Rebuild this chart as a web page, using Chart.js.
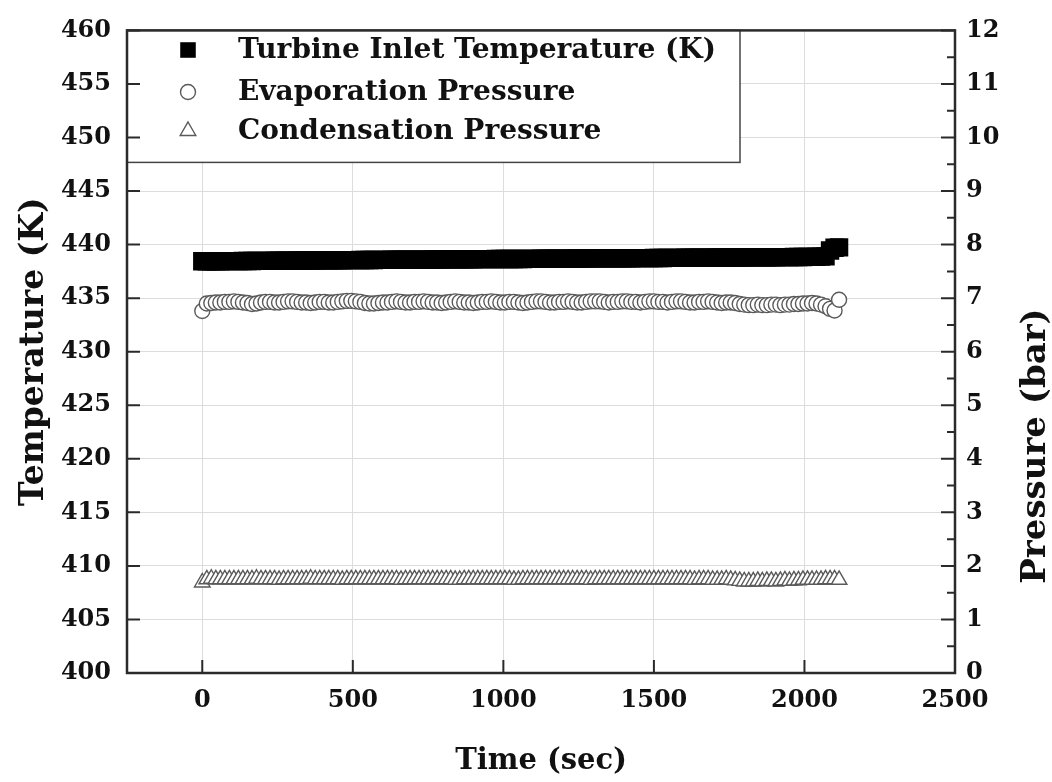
<!DOCTYPE html>
<html>
<head>
<meta charset="utf-8">
<script src="https://cdn.jsdelivr.net/npm/chart.js@4.4.1/dist/chart.umd.min.js"></script>
<style>
  body { margin: 0; background: #fff; }
  canvas { display: block; }
</style>
</head>
<body>
<canvas id="chart" width="1052" height="782"></canvas>
<script>
// time stamps (sec)
var timeSec = [
  0, 15, 30, 45, 60, 75, 90, 105, 120, 135,
  150, 165, 180, 195, 210, 225, 240, 255, 270, 285,
  300, 315, 330, 345, 360, 375, 390, 405, 420, 435,
  450, 465, 480, 495, 510, 525, 540, 555, 570, 585,
  600, 615, 630, 645, 660, 675, 690, 705, 720, 735,
  750, 765, 780, 795, 810, 825, 840, 855, 870, 885,
  900, 915, 930, 945, 960, 975, 990, 1005, 1020, 1035,
  1050, 1065, 1080, 1095, 1110, 1125, 1140, 1155, 1170, 1185,
  1200, 1215, 1230, 1245, 1260, 1275, 1290, 1305, 1320, 1335,
  1350, 1365, 1380, 1395, 1410, 1425, 1440, 1455, 1470, 1485,
  1500, 1515, 1530, 1545, 1560, 1575, 1590, 1605, 1620, 1635,
  1650, 1665, 1680, 1695, 1710, 1725, 1740, 1755, 1770, 1785,
  1800, 1815, 1830, 1845, 1860, 1875, 1890, 1905, 1920, 1935,
  1950, 1965, 1980, 1995, 2010, 2025, 2040, 2055, 2070, 2085,
  2100, 2115
];

// turbine inlet temperature (K)
var turbineInletTemp = [
  438.44, 438.44, 438.45, 438.45, 438.45, 438.46, 438.46, 438.46, 438.46, 438.47,
  438.47, 438.47, 438.48, 438.48, 438.48, 438.48, 438.49, 438.49, 438.49, 438.50,
  438.50, 438.51, 438.51, 438.52, 438.52, 438.52, 438.53, 438.53, 438.53, 438.54,
  438.54, 438.54, 438.55, 438.55, 438.55, 438.56, 438.56, 438.56, 438.56, 438.57,
  438.57, 438.57, 438.58, 438.58, 438.58, 438.59, 438.59, 438.59, 438.60, 438.60,
  438.60, 438.61, 438.61, 438.61, 438.62, 438.62, 438.62, 438.62, 438.63, 438.63,
  438.63, 438.64, 438.64, 438.64, 438.64, 438.65, 438.65, 438.65, 438.66, 438.66,
  438.66, 438.66, 438.67, 438.67, 438.67, 438.68, 438.68, 438.68, 438.68, 438.69,
  438.69, 438.69, 438.70, 438.70, 438.70, 438.70, 438.71, 438.71, 438.71, 438.72,
  438.72, 438.72, 438.72, 438.73, 438.73, 438.73, 438.74, 438.74, 438.74, 438.74,
  438.75, 438.75, 438.75, 438.76, 438.76, 438.76, 438.76, 438.77, 438.77, 438.77,
  438.78, 438.78, 438.78, 438.78, 438.79, 438.79, 438.79, 438.80, 438.80, 438.80,
  438.80, 438.81, 438.81, 438.81, 438.82, 438.82, 438.82, 438.82, 438.83, 438.83,
  438.83, 438.84, 438.84, 438.84, 438.85, 438.85, 438.86, 438.88, 438.90, 439.45,
  439.70, 439.74
];

// evaporation pressure (bar)
var evapPressure = [
  6.76, 6.90, 6.91, 6.92, 6.92, 6.93, 6.93, 6.94, 6.93, 6.92,
  6.91, 6.89, 6.90, 6.92, 6.93, 6.93, 6.92, 6.92, 6.93, 6.94,
  6.94, 6.93, 6.92, 6.92, 6.91, 6.92, 6.93, 6.93, 6.92, 6.92,
  6.93, 6.94, 6.95, 6.95, 6.94, 6.93, 6.91, 6.90, 6.90, 6.91,
  6.92, 6.92, 6.93, 6.94, 6.93, 6.92, 6.92, 6.93, 6.93, 6.94,
  6.93, 6.92, 6.92, 6.91, 6.92, 6.93, 6.94, 6.93, 6.92, 6.92,
  6.91, 6.92, 6.93, 6.93, 6.94, 6.93, 6.92, 6.92, 6.93, 6.93,
  6.92, 6.91, 6.92, 6.93, 6.94, 6.94, 6.93, 6.92, 6.92, 6.93,
  6.93, 6.94, 6.93, 6.92, 6.92, 6.93, 6.94, 6.94, 6.94, 6.93,
  6.92, 6.93, 6.93, 6.94, 6.94, 6.93, 6.93, 6.92, 6.93, 6.94,
  6.94, 6.93, 6.93, 6.92, 6.93, 6.94, 6.94, 6.93, 6.92, 6.92,
  6.93, 6.93, 6.94, 6.93, 6.92, 6.91, 6.92, 6.92, 6.91, 6.89,
  6.88, 6.87, 6.87, 6.88, 6.87, 6.87, 6.88, 6.88, 6.87, 6.88,
  6.88, 6.89, 6.89, 6.90, 6.90, 6.91, 6.90, 6.88, 6.85, 6.80,
  6.77, 6.97
];

// condensation pressure (bar)
var condPressure = [
  1.69, 1.75, 1.76, 1.75, 1.75, 1.75, 1.75, 1.75, 1.75, 1.75,
  1.75, 1.75, 1.76, 1.75, 1.75, 1.75, 1.75, 1.74, 1.75, 1.75,
  1.75, 1.75, 1.75, 1.75, 1.76, 1.75, 1.75, 1.75, 1.75, 1.75,
  1.75, 1.74, 1.75, 1.75, 1.75, 1.75, 1.75, 1.75, 1.75, 1.75,
  1.75, 1.75, 1.75, 1.75, 1.74, 1.75, 1.75, 1.75, 1.75, 1.75,
  1.75, 1.75, 1.75, 1.75, 1.75, 1.75, 1.74, 1.74, 1.75, 1.75,
  1.75, 1.75, 1.75, 1.75, 1.75, 1.75, 1.75, 1.75, 1.75, 1.74,
  1.74, 1.75, 1.75, 1.75, 1.75, 1.75, 1.75, 1.75, 1.75, 1.75,
  1.75, 1.75, 1.75, 1.75, 1.75, 1.75, 1.74, 1.75, 1.75, 1.75,
  1.75, 1.75, 1.75, 1.75, 1.75, 1.75, 1.75, 1.75, 1.75, 1.75,
  1.75, 1.75, 1.75, 1.75, 1.75, 1.75, 1.75, 1.75, 1.75, 1.74,
  1.75, 1.75, 1.75, 1.74, 1.74, 1.74, 1.75, 1.74, 1.73, 1.72,
  1.71, 1.71, 1.71, 1.72, 1.71, 1.72, 1.72, 1.71, 1.72, 1.73,
  1.72, 1.73, 1.73, 1.74, 1.74, 1.74, 1.74, 1.74, 1.75, 1.75,
  1.75, 1.74
];

var seriesLabels = ['Turbine Inlet Temperature (K)', 'Evaporation Pressure', 'Condensation Pressure'];
var xTicks = [0, 500, 1000, 1500, 2000, 2500];
var tempTicks = [400, 405, 410, 415, 420, 425, 430, 435, 440, 445, 450, 455, 460];
var presTicks = [0, 1, 2, 3, 4, 5, 6, 7, 8, 9, 10, 11, 12];
var presMinorTicks = [0.5, 1.5, 2.5, 3.5, 4.5, 5.5, 6.5, 7.5, 8.5, 9.5, 10.5, 11.5];

var FONT = '"DejaVu Serif", "Liberation Serif", serif';
var INK = '#111';

function pts(ys) {
  return timeSec.map(function(t, i) { return { x: t, y: ys[i] }; });
}

function plain(v) { return String(v); }

// white legend box in upper left of the plot
var legendBox = {
  id: 'legendBox',
  afterDatasetsDraw: function(chart) {
    var ctx = chart.ctx, a = chart.chartArea;
    ctx.save();
    ctx.fillStyle = '#fff';
    ctx.fillRect(a.left, a.top, 613, 132);
    ctx.strokeStyle = '#444';
    ctx.lineWidth = 1.5;
    ctx.strokeRect(a.left, a.top, 613, 132);
    var rows = [50, 92, 131];
    chart.data.datasets.forEach(function(ds, i) {
      ctx.fillStyle = ds.pointBackgroundColor;
      ctx.strokeStyle = ds.pointBorderColor;
      ctx.lineWidth = ds.pointBorderWidth;
      var r = i === 0 ? 11 : ds.pointRadius;
      Chart.helpers.drawPoint(ctx, { pointStyle: ds.pointStyle, radius: r, rotation: 0, borderWidth: ds.pointBorderWidth }, 188, rows[i]);
      ctx.fillStyle = INK;
      ctx.font = 'bold 28px ' + FONT;
      ctx.textAlign = 'left';
      ctx.textBaseline = 'middle';
      ctx.fillText(ds.label, 238, rows[i] + 1);
    });
    ctx.restore();
  }
};

// frame, inward tick marks and the right axis title
var frameTicks = {
  id: 'frameTicks',
  afterDraw: function(chart) {
    var ctx = chart.ctx, a = chart.chartArea;
    var sx = chart.scales.x, sy = chart.scales.y, sy1 = chart.scales.y1;
    ctx.save();
    ctx.strokeStyle = '#2a2a2a';
    ctx.lineWidth = 2;
    ctx.beginPath();
    xTicks.forEach(function(v) {
      var px = sx.getPixelForValue(v);
      ctx.moveTo(px, a.bottom); ctx.lineTo(px, a.bottom - 13);
    });
    tempTicks.forEach(function(v) {
      var py = sy.getPixelForValue(v);
      ctx.moveTo(a.left, py); ctx.lineTo(a.left + 13, py);
    });
    presTicks.forEach(function(v) {
      var py = sy1.getPixelForValue(v);
      ctx.moveTo(a.right, py); ctx.lineTo(a.right - 14, py);
    });
    presMinorTicks.forEach(function(v) {
      var py = sy1.getPixelForValue(v);
      ctx.moveTo(a.right, py); ctx.lineTo(a.right - 8, py);
    });
    ctx.stroke();
    ctx.lineWidth = 2.5;
    ctx.strokeRect(a.left, a.top, a.right - a.left, a.bottom - a.top);

    ctx.translate(1036, 446);
    ctx.rotate(-Math.PI / 2);
    ctx.fillStyle = INK;
    ctx.font = 'bold 34px ' + FONT;
    ctx.textAlign = 'center';
    ctx.textBaseline = 'middle';
    ctx.fillText('Pressure (bar)', 0, 0);
    ctx.restore();
  }
};

new Chart(document.getElementById('chart'), {
  type: 'scatter',
  data: {
    datasets: [
      {
        label: seriesLabels[0],
        data: pts(turbineInletTemp),
        yAxisID: 'y',
        pointStyle: 'rect',
        pointRadius: 13,
        pointBackgroundColor: '#000',
        pointBorderColor: '#000',
        pointBorderWidth: 0,
        showLine: false
      },
      {
        label: seriesLabels[1],
        data: pts(evapPressure),
        yAxisID: 'y1',
        pointStyle: 'circle',
        pointRadius: 7.5,
        pointBackgroundColor: '#fff',
        pointBorderColor: '#5a5a5a',
        pointBorderWidth: 1.4,
        showLine: false
      },
      {
        label: seriesLabels[2],
        data: pts(condPressure),
        yAxisID: 'y1',
        pointStyle: 'triangle',
        pointRadius: 9,
        pointBackgroundColor: '#fff',
        pointBorderColor: '#5a5a5a',
        pointBorderWidth: 1.4,
        showLine: false
      }
    ]
  },
  options: {
    responsive: false,
    animation: false,
    events: [],
    layout: { padding: { top: 20, left: 0, right: 0, bottom: 0 } },
    plugins: { legend: { display: false }, tooltip: { enabled: false } },
    scales: {
      x: {
        type: 'linear',
        min: -250,
        max: 2500,
        afterBuildTicks: function(s) { s.ticks = xTicks.map(function(v) { return { value: v }; }); },
        afterFit: function(s) { s.height = 109; },
        grid: { color: '#dcdcdc', lineWidth: 1, drawTicks: false },
        border: { display: false },
        ticks: { color: INK, font: { family: FONT, size: 24, weight: 'bold' }, padding: 13, maxRotation: 0, callback: plain },
        title: { display: true, text: 'Time (sec)', color: INK, font: { family: FONT, size: 29, weight: 'bold', lineHeight: 1 }, padding: { top: 0, bottom: 6 } }
      },
      y: {
        position: 'left',
        min: 400,
        max: 460,
        afterBuildTicks: function(s) { s.ticks = tempTicks.map(function(v) { return { value: v }; }); },
        afterFit: function(s) { s.width = 127; },
        grid: { color: '#dcdcdc', lineWidth: 1, drawTicks: false },
        border: { display: false },
        ticks: { color: INK, font: { family: FONT, size: 24, weight: 'bold' }, padding: 16, callback: plain },
        title: { display: true, text: 'Temperature (K)', color: INK, font: { family: FONT, size: 33, weight: 'bold', lineHeight: 1 }, padding: { top: 18, bottom: 0 } }
      },
      y1: {
        position: 'right',
        min: 0,
        max: 12,
        afterBuildTicks: function(s) { s.ticks = presTicks.map(function(v) { return { value: v }; }); },
        afterFit: function(s) { s.width = 97; },
        grid: { display: false, drawTicks: false },
        border: { display: false },
        ticks: { color: INK, font: { family: FONT, size: 24, weight: 'bold' }, padding: 11, callback: plain }
      }
    }
  },
  plugins: [legendBox, frameTicks]
});
</script>
</body>
</html>
